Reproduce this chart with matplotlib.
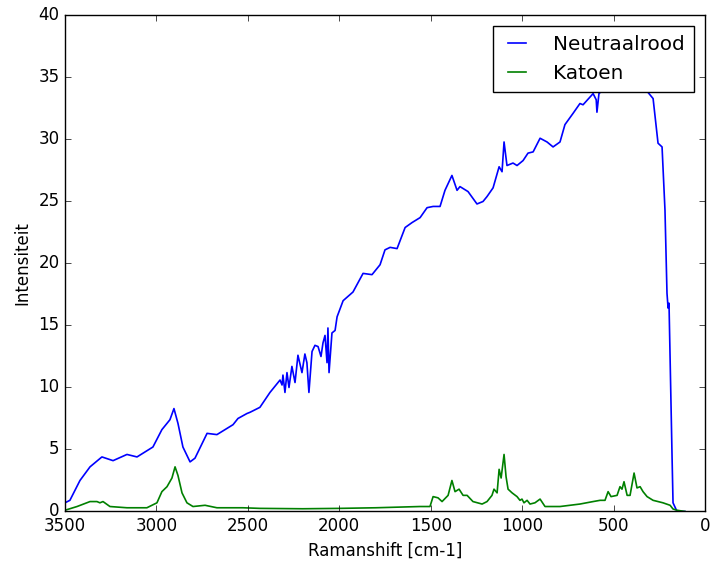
"""Ramanspectrum van neutraalrood en katoen."""
import matplotlib

matplotlib.use("Agg")
import matplotlib.pyplot as plt

# neutraalrood spectrum (wavenumber in cm-1, intensity)
shift_neutraalrood = [
    3500, 3473, 3418, 3363, 3298, 3237, 3161, 3106, 3019, 2970,
    2926, 2904, 2882, 2855, 2816, 2789, 2723, 2669, 2581, 2554,
    2505, 2488, 2434, 2379, 2324, 2313, 2308, 2297, 2286, 2275,
    2259, 2242, 2226, 2204, 2188, 2177, 2166, 2149, 2133, 2116,
    2100, 2089, 2078, 2067, 2062, 2056, 2040, 2023, 2012, 1979,
    1925, 1870, 1821, 1777, 1750, 1722, 1684, 1640, 1602, 1558,
    1520, 1487, 1449, 1422, 1384, 1356, 1340, 1296, 1247, 1214,
    1192, 1159, 1126, 1110, 1099, 1083, 1050, 1028, 995, 968,
    940, 902, 864, 831, 793, 766, 722, 684, 667, 612,
    595, 591, 580, 558, 520, 470, 420, 370, 330, 312,
    284, 257, 235, 219, 208, 202, 197, 180, 175, 153,
    110,
]
intensiteit_neutraalrood = [
    0.7, 0.9, 2.5, 3.6, 4.4, 4.1, 4.6, 4.4, 5.2, 6.6,
    7.4, 8.3, 7.1, 5.2, 4.0, 4.3, 6.3, 6.2, 7.0, 7.5,
    7.9, 8.0, 8.4, 9.6, 10.6, 10.2, 11.0, 9.6, 11.2, 10.0,
    11.7, 10.4, 12.6, 11.2, 12.7, 12.0, 9.6, 12.9, 13.4, 13.3,
    12.5, 13.6, 14.2, 12.0, 14.8, 11.2, 14.4, 14.6, 15.7, 17.0,
    17.7, 19.2, 19.1, 19.9, 21.1, 21.3, 21.2, 22.9, 23.3, 23.7,
    24.5, 24.6, 24.6, 25.9, 27.1, 25.9, 26.2, 25.8, 24.8, 25.0,
    25.4, 26.1, 27.8, 27.4, 29.8, 27.9, 28.1, 27.9, 28.3, 28.9,
    29.0, 30.1, 29.8, 29.4, 29.8, 31.2, 32.1, 32.9, 32.8, 33.7,
    33.2, 32.2, 33.7, 34.0, 35.2, 36.3, 37.0, 36.8, 35.0, 33.8,
    33.3, 29.7, 29.4, 24.3, 17.6, 16.4, 16.8, 4.2, 0.7, 0.0,
    0.0,
]

# katoen spectrum
shift_katoen = [
    3500, 3434, 3363, 3325, 3309, 3292, 3254, 3161, 3052, 2997,
    2970, 2942, 2915, 2898, 2882, 2860, 2833, 2800, 2734, 2669,
    2527, 2434, 2200, 2000, 1800, 1559, 1504, 1487, 1460, 1438,
    1405, 1384, 1367, 1345, 1323, 1301, 1269, 1219, 1192, 1165,
    1154, 1137, 1126, 1115, 1099, 1088, 1077, 1055, 1028, 1012,
    1001, 990, 973, 957, 930, 902, 875, 793, 684, 612,
    574, 547, 530, 514, 481, 465, 454, 443, 426, 410,
    388, 372, 355, 339, 317, 284, 230, 191, 175, 153,
    110,
]
intensiteit_katoen = [
    0.1, 0.4, 0.8, 0.8, 0.7, 0.8, 0.4, 0.3, 0.3, 0.7,
    1.6, 2.0, 2.7, 3.6, 2.9, 1.5, 0.7, 0.4, 0.5, 0.3,
    0.3, 0.25, 0.22, 0.25, 0.3, 0.4, 0.4, 1.2, 1.1, 0.8,
    1.3, 2.5, 1.6, 1.8, 1.3, 1.3, 0.8, 0.6, 0.8, 1.3,
    1.8, 1.5, 3.4, 2.7, 4.6, 2.8, 1.8, 1.5, 1.2, 0.9,
    1.0, 0.7, 0.9, 0.6, 0.7, 1.0, 0.4, 0.4, 0.6, 0.8,
    0.9, 0.9, 1.6, 1.2, 1.3, 2.0, 1.8, 2.4, 1.3, 1.3,
    3.1, 1.9, 2.0, 1.6, 1.2, 0.9, 0.7, 0.5, 0.2, 0.1,
    0.0,
]

plt.style.use("classic")

fig = plt.figure(figsize=(7.1, 5.63), dpi=100, facecolor="white")
ax = fig.add_axes([0.0915, 0.0915, 0.9015, 0.881])

ax.plot(shift_neutraalrood, intensiteit_neutraalrood, "b-", lw=1.2, label="Neutraalrood")
ax.plot(shift_katoen, intensiteit_katoen, "g-", lw=1.2, label="Katoen")

ax.set_xlim(3500, 0)
ax.set_ylim(0, 40)
ax.set_xlabel("Ramanshift [cm-1]")
ax.set_ylabel("Intensiteit")
ax.legend(loc="upper right", handlelength=1.5, handletextpad=1.05,
          borderpad=0.45, borderaxespad=0.55)

fig.savefig("out.png", dpi=100, facecolor="white")
